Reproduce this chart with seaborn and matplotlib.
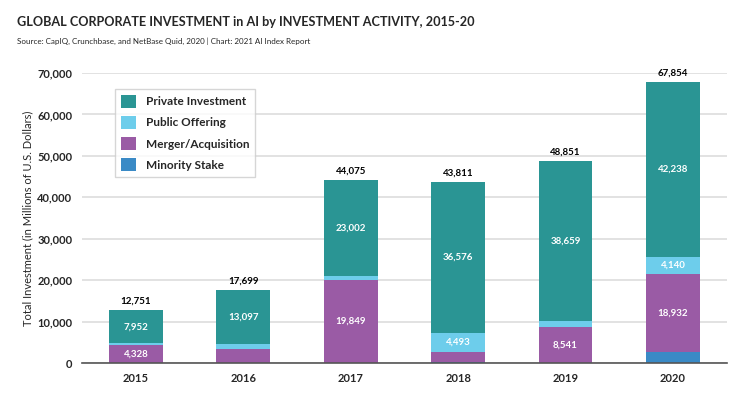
import matplotlib
matplotlib.use("Agg")
import matplotlib.pyplot as plt
import seaborn as sns
import numpy as np
import pandas as pd

years = ["2015", "2016", "2017", "2018", "2019", "2020"]
private_investment = [7952, 13097, 23002, 36576, 38659, 42238]
public_offering = [400, 1100, 1150, 4493, 1550, 4140]
merger_acquisition = [4328, 3400, 19849, 2600, 8541, 18932]
minority_stake = [71, 102, 74, 142, 101, 2544]
totals = [12751, 17699, 44075, 43811, 48851, 67854]

# which segments carry a value label
label_private = [True, True, True, True, True, True]
label_public = [False, False, False, True, False, True]
label_merger = [True, False, True, False, True, True]

series_names = ["Minority Stake", "Merger/Acquisition", "Public Offering", "Private Investment"]
series_values = [minority_stake, merger_acquisition, public_offering, private_investment]
series_labels = [[False] * 6, label_merger, label_public, label_private]
colors = {
    "Private Investment": "#2A9594",
    "Public Offering": "#6DCDEB",
    "Merger/Acquisition": "#9A5BA5",
    "Minority Stake": "#3A8AC6",
}

sns.set_theme(style="white")
plt.rcParams["font.family"] = ["Lato", "DejaVu Sans"]

fig = plt.figure(figsize=(7.4, 3.95), dpi=100)
ax = fig.add_axes([0.111, 0.081, 0.871, 0.734])

bottom = np.zeros(len(years))
for name, vals, labs in zip(series_names, series_values, series_labels):
    df = pd.DataFrame({"year": years, "value": vals})
    sns.barplot(data=df, x="year", y="value", color=colors[name], width=0.5,
                bottom=bottom, ax=ax, saturation=1, label=name, zorder=3,
                linewidth=0)
    for i, (v, lab) in enumerate(zip(vals, labs)):
        if lab:
            ax.text(i, bottom[i] + v / 2, f"{v:,}", ha="center", va="center",
                    color="white", fontsize=7, fontweight="bold", zorder=5)
    bottom = bottom + np.array(vals)

for i, t in enumerate(totals):
    ax.text(i, t + 2150, f"{t:,}", ha="center", va="center", color="black",
            fontsize=7, fontweight="bold", clip_on=False)

ax.set_ylim(0, 70000)
ax.set_xlim(-0.5, 5.5)
ax.set_yticks(range(0, 70001, 10000))
ax.set_yticklabels([f"{v:,}" for v in range(0, 70001, 10000)], fontsize=8,
                   fontweight="bold")
ax.set_xticks(range(len(years)))
ax.set_xticklabels(years, fontsize=8, fontweight="bold")
ax.tick_params(axis="x", length=0, pad=7)
ax.tick_params(axis="y", length=0, pad=7)
ax.yaxis.grid(True, color="#dddddd", linewidth=1.2, zorder=0)
ax.set_axisbelow(True)
for s in ["top", "right", "left"]:
    ax.spines[s].set_visible(False)
ax.spines["bottom"].set_color("#555555")
ax.spines["bottom"].set_linewidth(1.2)
ax.spines["bottom"].set_zorder(6)
ax.set_xlabel("")
ax.set_ylabel("Total Investment (in Millions of U.S. Dollars)", fontsize=8,
              labelpad=3)

h, l = ax.get_legend_handles_labels()
order = ["Private Investment", "Public Offering", "Merger/Acquisition", "Minority Stake"]
hmap = dict(zip(l, h))
leg = ax.legend([hmap[o] for o in order], order, loc="upper left",
                bbox_to_anchor=(0.051, 0.945), frameon=True,
                fancybox=False, edgecolor="#cccccc", handlelength=1.3,
                handleheight=1.3, labelspacing=0.7, borderpad=0.5,
                handletextpad=0.8, borderaxespad=0,
                prop={"weight": "bold", "size": 8.5})
leg.get_frame().set_linewidth(1)

fig.text(0.023, 0.945, "GLOBAL CORPORATE INVESTMENT in AI by INVESTMENT ACTIVITY, 2015-20",
         fontsize=9.1, fontweight="bold", ha="left", va="center")
fig.text(0.023, 0.895, "Source: CapIQ, Crunchbase, and NetBase Quid, 2020 | Chart: 2021 AI Index Report",
         fontsize=5.8, ha="left", va="center")

fig.savefig("out.png", dpi=100)
